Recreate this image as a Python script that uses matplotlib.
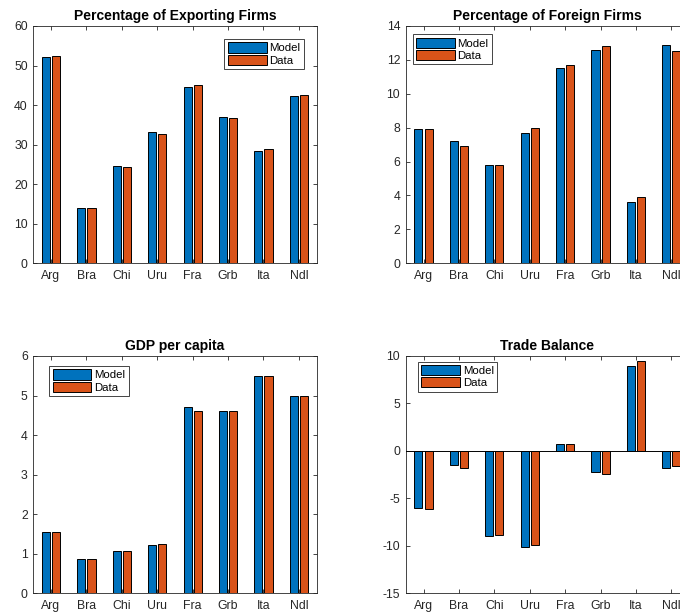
import numpy as np
import matplotlib
matplotlib.use("Agg")
import matplotlib.pyplot as plt

plt.rcParams['font.family'] = ['Liberation Sans', 'DejaVu Sans']
plt.rcParams['axes.unicode_minus'] = False

countries = ["Arg", "Bra", "Chi", "Uru", "Fra", "Grb", "Ita", "Ndl"]

export_model = [52.2, 14.1, 24.6, 33.2, 44.7, 36.9, 28.3, 42.2]
export_data = [52.3, 14.1, 24.3, 32.8, 45.0, 36.7, 28.8, 42.5]

foreign_model = [7.9, 7.2, 5.8, 7.7, 11.5, 12.6, 3.6, 12.9]
foreign_data = [7.9, 6.9, 5.8, 8.0, 11.7, 12.8, 3.9, 12.5]

gdp_model = [1.56, 0.86, 1.08, 1.21, 4.7, 4.6, 5.5, 5.0]
gdp_data = [1.56, 0.86, 1.08, 1.24, 4.6, 4.6, 5.5, 5.0]

trade_model = [-6.05, -1.5, -8.95, -10.15, 0.7, -2.2, 8.9, -1.8]
trade_data = [-6.15, -1.8, -8.85, -9.95, 0.7, -2.4, 9.5, -1.6]

BLUE = "#0072BD"
ORANGE = "#D95319"
AXC = "#262626"

fig = plt.figure(figsize=(6.8, 6.14), dpi=100)

W, H = 680.0, 614.0
ax_w = 283.3 / W
ax_h = 237.3 / H
lefts = [33.3 / W, 405.8 / W]
bottoms = [1 - 263.3 / H, 1 - 593.3 / H]

panels = [
    ("Percentage of Exporting Firms", export_model, export_data, (0, 60), np.arange(0, 61, 10), (0, 0), (0.955, 0.945), "upper right"),
    ("Percentage of Foreign Firms", foreign_model, foreign_data, (0, 14), np.arange(0, 15, 2), (1, 0), (0.024, 0.965), "upper left"),
    ("GDP per capita", gdp_model, gdp_data, (0, 6), np.arange(0, 7, 1), (0, 1), (0.0565, 0.958), "upper left"),
    ("Trade Balance", trade_model, trade_data, (-15, 10), np.arange(-15, 11, 5), (1, 1), (0.042, 0.976), "upper left"),
]

x = np.arange(1, len(countries) + 1)
offset = 0.143
bw = 0.229

for title, model, data, ylim, yticks, (col, row), anchor, loc in panels:
    ax = fig.add_axes([lefts[col], bottoms[row], ax_w, ax_h])
    ax.bar(x - offset, model, bw, color=BLUE, edgecolor="black", linewidth=0.7, label="Model", zorder=2)
    ax.bar(x + offset, data, bw, color=ORANGE, edgecolor="black", linewidth=0.7, label="Data", zorder=2)
    ax.axhline(0, color="black", linewidth=0.7, zorder=3)
    ax.set_xlim(0.5, 8.5)
    ax.set_ylim(*ylim)
    ax.set_xticks(x)
    ax.set_xticklabels(countries)
    ax.set_yticks(yticks)
    ax.tick_params(direction="in", length=3, width=0.6, colors=AXC, labelsize=8.8,
                   top=True, right=True, pad=4)
    ax.tick_params(axis="x", pad=5)
    for s in ax.spines.values():
        s.set_color(AXC)
        s.set_linewidth(0.6)
    ax.set_title(title, fontsize=10, fontweight="bold", color="black", pad=4)
    leg = ax.legend(loc=loc, bbox_to_anchor=anchor, borderaxespad=0, fontsize=8.2,
                    handlelength=3.4, handleheight=1.0, handletextpad=0.25,
                    labelspacing=0.1, borderpad=0.3, fancybox=False, framealpha=1)
    leg.get_frame().set_edgecolor(AXC)
    leg.get_frame().set_linewidth(0.6)

fig.savefig("out.png", dpi=100)
